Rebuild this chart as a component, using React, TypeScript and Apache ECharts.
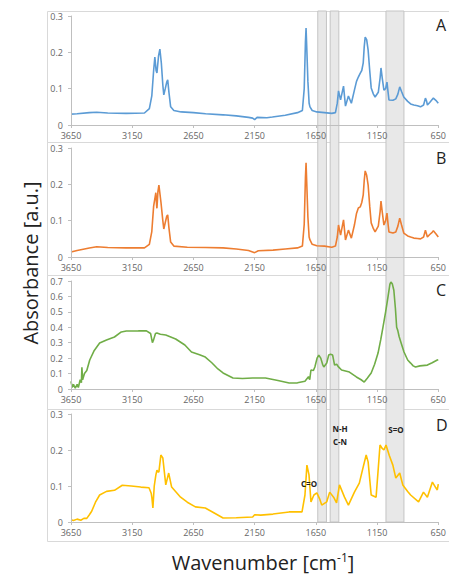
import React, { useEffect, useRef } from "react";
import * as echarts from "echarts";

// Wavenumber axis (reversed): 3650 -> 650
const WN_START = 3650;
const WN_SPAN = 3000;
const WN_STEP = 500;

const panelNames = ["A", "B", "C", "D"];
const panelColors = ["#5b9bd5", "#ed7d31", "#70ad47", "#ffc000"];
const panelYMax = [0.3, 0.3, 0.7, 0.3];

// shaded bands [from, to] in cm-1
const bands: [number, number][] = [
  [1660, 1590],
  [1560, 1490],
  [1110, 965],
];

const specA: [number, number][] = [
  [3650, 0.030], [3600, 0.031], [3500, 0.034], [3440, 0.035], [3350, 0.033], [3200, 0.032], [3050, 0.033],
  [3010, 0.045], [2990, 0.080], [2975, 0.150], [2965, 0.187], [2955, 0.150], [2948, 0.143], [2935, 0.190],
  [2924, 0.209], [2912, 0.170], [2900, 0.110], [2892, 0.083], [2880, 0.100], [2868, 0.118], [2860, 0.124],
  [2850, 0.090], [2836, 0.050], [2810, 0.040], [2750, 0.036], [2650, 0.034], [2550, 0.031], [2408, 0.028],
  [2300, 0.025], [2200, 0.021], [2166, 0.019], [2150, 0.015], [2130, 0.021], [2050, 0.020], [2005, 0.022],
  [1900, 0.027], [1800, 0.034], [1760, 0.040], [1745, 0.100], [1735, 0.230], [1730, 0.267], [1725, 0.220],
  [1715, 0.120], [1705, 0.060], [1698, 0.050], [1680, 0.040], [1642, 0.036], [1580, 0.034], [1520, 0.032],
  [1490, 0.034], [1475, 0.060], [1465, 0.094], [1448, 0.069], [1424, 0.107], [1408, 0.052], [1384, 0.080],
  [1360, 0.060], [1335, 0.096], [1318, 0.120], [1303, 0.132], [1287, 0.143], [1275, 0.150], [1263, 0.171],
  [1255, 0.215], [1247, 0.242], [1235, 0.235], [1223, 0.206], [1210, 0.150], [1198, 0.102], [1180, 0.085],
  [1166, 0.077], [1140, 0.090], [1125, 0.130], [1118, 0.157], [1108, 0.130], [1094, 0.096], [1080, 0.100],
  [1069, 0.118], [1060, 0.090], [1053, 0.069], [1020, 0.068], [997, 0.072], [980, 0.085], [965, 0.105],
  [950, 0.092], [932, 0.077], [900, 0.065], [876, 0.058], [850, 0.055], [820, 0.053], [795, 0.050],
  [770, 0.055], [755, 0.074], [745, 0.065], [739, 0.055], [720, 0.062], [700, 0.070], [690, 0.074],
  [670, 0.068], [650, 0.060],
];

const specB: [number, number][] = [
  [3650, 0.014], [3600, 0.018], [3500, 0.025], [3440, 0.028], [3350, 0.026], [3200, 0.025], [3050, 0.025],
  [3010, 0.035], [2990, 0.070], [2975, 0.140], [2957, 0.177], [2950, 0.140], [2948, 0.134], [2940, 0.180],
  [2932, 0.198], [2915, 0.150], [2900, 0.100], [2892, 0.077], [2880, 0.095], [2868, 0.112], [2860, 0.116],
  [2850, 0.080], [2836, 0.041], [2810, 0.030], [2700, 0.027], [2550, 0.026], [2408, 0.025], [2300, 0.022],
  [2200, 0.018], [2150, 0.012], [2120, 0.017], [2000, 0.019], [1900, 0.022], [1800, 0.025], [1760, 0.030],
  [1745, 0.090], [1735, 0.220], [1730, 0.259], [1725, 0.210], [1715, 0.110], [1705, 0.055], [1698, 0.047],
  [1680, 0.035], [1642, 0.031], [1580, 0.030], [1520, 0.027], [1490, 0.030], [1475, 0.055], [1465, 0.088],
  [1448, 0.060], [1424, 0.102], [1408, 0.047], [1384, 0.074], [1360, 0.052], [1335, 0.088], [1318, 0.120],
  [1303, 0.135], [1287, 0.138], [1275, 0.150], [1263, 0.171], [1255, 0.210], [1247, 0.237], [1235, 0.225],
  [1223, 0.198], [1210, 0.140], [1198, 0.094], [1180, 0.078], [1166, 0.069], [1140, 0.085], [1125, 0.125],
  [1118, 0.154], [1108, 0.125], [1094, 0.088], [1080, 0.100], [1069, 0.121], [1060, 0.090], [1053, 0.069],
  [1020, 0.066], [997, 0.069], [980, 0.085], [965, 0.107], [950, 0.088], [932, 0.066], [900, 0.058],
  [876, 0.055], [850, 0.052], [820, 0.051], [795, 0.050], [770, 0.055], [755, 0.074], [745, 0.062],
  [739, 0.055], [720, 0.062], [700, 0.068], [690, 0.072], [670, 0.064], [650, 0.055],
];

const specC: [number, number][] = [
  [3650, 0.050], [3640, 0.010], [3630, 0.030], [3615, 0.005], [3600, 0.030], [3590, 0.010], [3575, 0.060],
  [3565, 0.040], [3561, 0.140], [3555, 0.060], [3540, 0.100], [3521, 0.120], [3497, 0.188], [3460, 0.250],
  [3416, 0.298], [3360, 0.318], [3295, 0.337], [3239, 0.370], [3198, 0.376], [3100, 0.377], [3037, 0.378],
  [3000, 0.360], [2985, 0.300], [2975, 0.320], [2960, 0.360], [2948, 0.363], [2920, 0.355], [2876, 0.350],
  [2795, 0.324], [2720, 0.285], [2666, 0.240], [2600, 0.222], [2553, 0.207], [2500, 0.170], [2450, 0.130],
  [2408, 0.104], [2327, 0.071], [2250, 0.068], [2166, 0.071], [2061, 0.071], [1960, 0.055], [1868, 0.039],
  [1800, 0.040], [1739, 0.050], [1710, 0.080], [1700, 0.060], [1690, 0.123], [1670, 0.120], [1658, 0.143],
  [1640, 0.200], [1626, 0.220], [1610, 0.200], [1595, 0.160], [1585, 0.143], [1561, 0.168], [1545, 0.220],
  [1530, 0.225], [1513, 0.220], [1497, 0.155], [1480, 0.160], [1465, 0.143], [1440, 0.123], [1376, 0.110],
  [1319, 0.078], [1280, 0.060], [1255, 0.045], [1230, 0.070], [1198, 0.104], [1170, 0.160], [1142, 0.233],
  [1120, 0.320], [1102, 0.400], [1080, 0.500], [1061, 0.596], [1045, 0.680], [1037, 0.693], [1025, 0.680],
  [1013, 0.640], [1000, 0.520], [990, 0.400], [981, 0.380], [970, 0.340], [956, 0.305], [930, 0.240],
  [900, 0.188], [876, 0.168], [855, 0.150], [836, 0.143], [800, 0.150], [739, 0.155], [700, 0.170],
  [658, 0.188], [650, 0.190],
];

const specD: [number, number][] = [
  [3650, 0.006], [3630, 0.004], [3600, 0.008], [3570, 0.005], [3545, 0.010], [3521, 0.010], [3500, 0.020],
  [3481, 0.030], [3450, 0.055], [3416, 0.075], [3360, 0.085], [3295, 0.088], [3231, 0.102], [3158, 0.100],
  [3080, 0.097], [3013, 0.095], [2995, 0.080], [2989, 0.067], [2981, 0.039], [2970, 0.100], [2957, 0.130],
  [2948, 0.144], [2940, 0.139], [2932, 0.139], [2916, 0.186], [2900, 0.178], [2876, 0.103], [2852, 0.136],
  [2828, 0.097], [2755, 0.069], [2700, 0.055], [2634, 0.042], [2553, 0.039], [2480, 0.025], [2408, 0.011],
  [2300, 0.012], [2166, 0.014], [2150, 0.020], [2100, 0.019], [2000, 0.022], [1868, 0.028], [1763, 0.028],
  [1739, 0.075], [1723, 0.158], [1706, 0.131], [1690, 0.056], [1666, 0.075], [1642, 0.081], [1620, 0.065],
  [1602, 0.047], [1561, 0.056], [1537, 0.083], [1505, 0.069], [1481, 0.053], [1457, 0.103], [1416, 0.069],
  [1384, 0.047], [1335, 0.083], [1295, 0.108], [1263, 0.153], [1239, 0.186], [1223, 0.167], [1198, 0.075],
  [1158, 0.069], [1140, 0.150], [1126, 0.214], [1110, 0.205], [1094, 0.200], [1077, 0.214], [1050, 0.185],
  [1021, 0.158], [997, 0.122], [965, 0.136], [940, 0.103], [900, 0.085], [876, 0.075], [811, 0.056],
  [771, 0.083], [739, 0.069], [698, 0.111], [670, 0.095], [658, 0.089], [650, 0.105],
];

const spectra = [specA, specB, specC, specD];

// layout
const GRID_LEFT = 71;
const GRID_RIGHT = 6;
const panelTop = [16, 148, 281, 414];
const panelHeight = [109, 109, 108, 108];
const FONT = "'Open Sans', 'Liberation Sans', sans-serif";

const toX = (wn: number) => WN_START - wn;

export default function App() {
  const ref = useRef<HTMLDivElement>(null);
  useEffect(() => {
    if (!ref.current) return;
    const chart = echarts.init(ref.current, undefined, { renderer: "svg" });

    const grids: any[] = panelTop.map((t, i) => ({
      left: GRID_LEFT, right: GRID_RIGHT, top: t, height: panelHeight[i],
    }));
    grids.push({ left: GRID_LEFT, right: GRID_RIGHT, top: 11, height: 511 });

    const xAxes: any[] = panelTop.map((_, i) => ({
      gridIndex: i,
      type: "value",
      min: 0,
      max: WN_SPAN,
      interval: WN_STEP,
      z: 4,
      axisLine: { show: true, onZero: false, lineStyle: { color: "#bfbfbf", width: 1 } },
      axisTick: { show: true, length: 3, lineStyle: { color: "#bfbfbf" } },
      axisLabel: {
        fontSize: 9, color: "#666666", fontFamily: FONT, margin: 6,
        formatter: (v: number) => String(WN_START - v),
      },
      splitLine: { show: false },
    }));
    xAxes.push({ gridIndex: 4, type: "value", min: 0, max: WN_SPAN, show: false });

    const yAxes: any[] = panelTop.map((_, i) => ({
      gridIndex: i,
      type: "value",
      min: 0,
      max: panelYMax[i],
      interval: 0.1,
      z: 4,
      axisLine: { show: true, lineStyle: { color: "#bfbfbf", width: 1 } },
      axisTick: { show: true, length: 3, lineStyle: { color: "#bfbfbf" } },
      axisLabel: {
        fontSize: 9, color: "#666666", fontFamily: FONT, margin: 8,
        formatter: (v: number) => (Math.abs(v) < 1e-9 ? "0" : v.toFixed(1)),
      },
      splitLine: { show: false },
    }));
    yAxes.push({ gridIndex: 4, type: "value", min: 0, max: 1, show: false });

    const series: any[] = spectra.map((s, i) => ({
      type: "line",
      xAxisIndex: i,
      yAxisIndex: i,
      data: s.map(([wn, a]) => [toX(wn), a]),
      showSymbol: false,
      symbol: "none",
      lineStyle: { color: panelColors[i], width: 1.6 },
      itemStyle: { color: panelColors[i] },
      z: 3,
    }));
    series.push({
      type: "line",
      xAxisIndex: 4,
      yAxisIndex: 4,
      data: [[0, -1], [WN_SPAN, -1]],
      showSymbol: false,
      symbol: "none",
      lineStyle: { opacity: 0, width: 0 },
      z: 1,
      silent: true,
      markArea: {
        silent: true,
        itemStyle: { color: "#e8e8e8", borderColor: "#c4c4c4", borderWidth: 1 },
        data: bands.map(([a, b]) => [
          { xAxis: toX(a), yAxis: 0 },
          { xAxis: toX(b), yAxis: 1 },
        ]),
      },
    });

    const boxes = [
      [11, 142], [142, 275], [275, 409], [409, 541],
    ].map(([y0, y1]) => ({
      type: "rect",
      shape: { x: 47.5, y: y0 + 0.5, width: 420, height: y1 - y0 },
      style: { fill: "none", stroke: "#d9d9d9", lineWidth: 1 },
      z: 0,
      silent: true,
    }));

    const letterY = [25, 158, 290, 425];
    const letters = panelNames.map((n, i) => ({
      type: "text",
      x: 436,
      y: letterY[i],
      style: { text: n, font: `16px ${FONT}`, fill: "#222", textVerticalAlign: "middle" },
      z: 10,
    }));

    const annotations = [
      { t: "C=O", x: 309, y: 483 },
      { t: "N-H", x: 340, y: 428 },
      { t: "C-N", x: 340, y: 441 },
      { t: "S=O", x: 396, y: 429 },
    ].map((a) => ({
      type: "text",
      x: a.x,
      y: a.y,
      style: {
        text: a.t, font: `bold 8px ${FONT}`, fill: "#222",
        textAlign: "center", textVerticalAlign: "middle",
      },
      z: 10,
    }));

    chart.setOption({
      animation: false,
      backgroundColor: "#ffffff",
      grid: grids,
      xAxis: xAxes,
      yAxis: yAxes,
      series,
      graphic: [
        ...boxes,
        ...letters,
        ...annotations,
        {
          type: "text",
          x: 30,
          y: 263,
          rotation: Math.PI / 2,
          style: {
            text: "Absorbance [a.u.]", font: `20px ${FONT}`, fill: "#222",
            textAlign: "center", textVerticalAlign: "middle",
          },
          z: 10,
        },
        {
          type: "text",
          x: 263,
          y: 562,
          style: {
            text: "Wavenumber [cm{sup|-1}]",
            font: `20px ${FONT}`,
            fill: "#222",
            textAlign: "center",
            textVerticalAlign: "middle",
            rich: {
              sup: { fontSize: 12, verticalAlign: "top", padding: [0, 0, 10, 0], fontFamily: FONT, fill: "#222" },
            },
          },
          z: 10,
        },
      ],
    });
    return () => chart.dispose();
  }, []);
  return <div ref={ref} style={{ width: 449, height: 579, position: "absolute", left: 0, top: 0 }} />;
}
